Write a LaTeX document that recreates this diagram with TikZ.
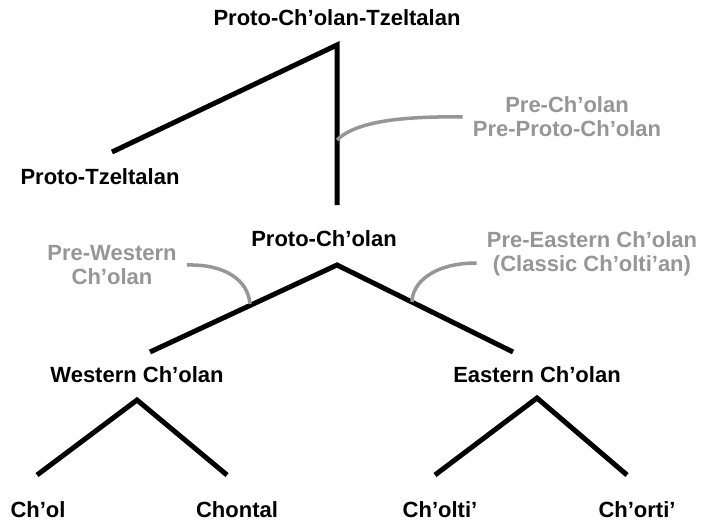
\documentclass[tikz,border=0pt]{standalone}
\usepackage{fontspec}
\setmainfont{Liberation Sans}
\usepackage{xcolor}
\usepackage{tikz}

\definecolor{abu}{RGB}{150,150,150}

\begin{document}
\begin{tikzpicture}[x=1pt,y=-1pt,
    bahasa/.style={font=\fontsize{22}{24}\selectfont\bfseries},
    tahap/.style={font=\fontsize{22}{24}\selectfont\bfseries, text=abu, align=center, inner sep=10pt},
    cabang/.style={line width=5pt},
    kurva/.style={draw=abu, line width=3.5pt}]
				\useasboundingbox (0,0) rectangle (701,525);

				% node bahasa
				% \node (nama) [gaya] at (x,y) {text};
				\node (pct) [bahasa] at (337,18) {Proto-Ch’olan-Tzeltalan};   % akar
				\node (tzeltalan) [bahasa] at (100,177) {Proto-Tzeltalan};
				\node (cholan) [bahasa] at (324,239) {Proto-Ch’olan};
				\node (western) [bahasa] at (137,375) {Western Ch’olan};
				\node (eastern) [bahasa] at (537,375) {Eastern Ch’olan};
				\node (chol) [bahasa] at (38,510) {Ch’ol};                    % daun
				\node (chontal) [bahasa] at (237,510) {Chontal};
				\node (cholti) [bahasa] at (440,510) {Ch’olti’};
				\node (chorti) [bahasa] at (637,510) {Ch’orti’};

				% node tahap (abu-abu)
				\node (precholan) [tahap] at (567,117) {Pre-Ch’olan\\Pre-Proto-Ch’olan};
				\node (prewestern) [tahap] at (112,265) {Pre-Western\\Ch’olan};
				\node (preeastern) [tahap] at (592,254) {Pre-Eastern Ch’olan\\(Classic Ch’olti’an)};

				% titik ujung cabang
				\coordinate (pct-a) at (337,45);
				\coordinate (tzeltalan-t) at (112,152);
				\coordinate (cholan-t) at (337,205);
				\coordinate (cholan-a) at (337,265);
				\coordinate (western-t) at (150,352);
				\coordinate (eastern-t) at (513,352);
				\coordinate (western-a) at (137,400);
				\coordinate (chol-t) at (37,475);
				\coordinate (chontal-t) at (227,475);
				\coordinate (eastern-a) at (537,398);
				\coordinate (cholti-t) at (435,475);
				\coordinate (chorti-t) at (627,475);

				% titik awal kurva di atas cabang
				\coordinate (j1) at (337,140);
				\coordinate (j2) at (250,304);
				\coordinate (j3) at (412,302);

				% garis cabang
				\draw [cabang] (tzeltalan-t) -- (pct-a) -- (cholan-t);
				\draw [cabang] (western-t) -- (cholan-a) -- (eastern-t);
				\draw [cabang] (chol-t) -- (western-a) -- (chontal-t);
				\draw [cabang] (cholti-t) -- (eastern-a) -- (chorti-t);

				% kurva ke label tahap
				\draw [kurva] (j1) .. controls (355,122) and (400,116) .. (precholan.west);
				\draw [kurva] (j2) .. controls (248,280) and (225,264) .. (prewestern.east);
				\draw [kurva] (j3) .. controls (412,284) and (432,263) .. ([yshift=-9pt]preeastern.west);
			\end{tikzpicture}
\end{document}
